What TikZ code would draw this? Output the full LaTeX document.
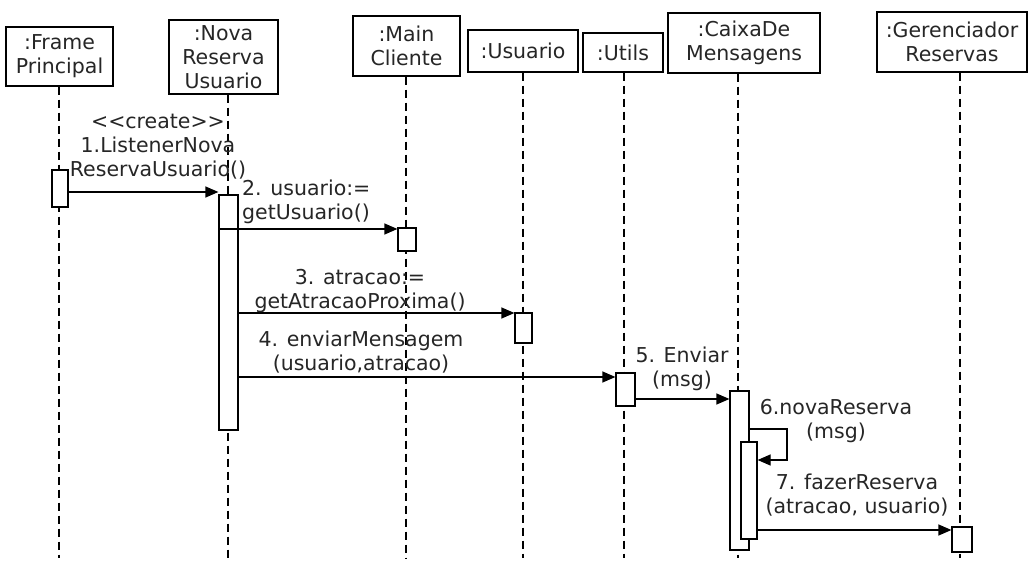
\documentclass[tikz,border=0pt]{standalone}
\usepackage{fontspec}
\setmainfont{DejaVu Sans}
\usetikzlibrary{arrows.meta}
\begin{document}
\begin{tikzpicture}[x=1pt,y=-1pt,
 every node/.style={font=\fontsize{20.5}{24}\selectfont, inner sep=0pt, text=black!85},
 head/.style={draw, line width=1.3pt, fill=white, align=center},
 actbox/.style={draw, line width=1.2pt, fill=white},
 life/.style={line width=1.2pt, dash pattern=on 8pt off 5pt},
 msg/.style={line width=1.2pt, -{Triangle[length=13pt,width=11pt]}},
 lbl/.style={align=center},
]
\useasboundingbox[fill=white] (0,0) rectangle (1029,564);

% heads
\node[head, minimum width=107pt, minimum height=59pt] (fp) at (59.5,56.5) {:Frame\\Principal};
\node[head, minimum width=109pt, minimum height=74pt] (nova) at (223.5,57) {:Nova\\Reserva\\Usuario};
\node[head, minimum width=107pt, minimum height=60pt] (mc) at (406.5,46) {:Main\\Cliente};
\node[head, minimum width=110pt, minimum height=42pt] (usu) at (523,51) {:Usuario};
\node[head, minimum width=80pt, minimum height=39pt] (ut) at (623,52.5) {:Utils};
\node[head, minimum width=152pt, minimum height=60pt] (cx) at (744,43) {:CaixaDe\\Mensagens};
\node[head, minimum width=150pt, minimum height=60pt] (gr) at (952,42) {:Gerenciador\\Reservas};

% lifeline ends
\coordinate (l1) at (59,558);
\coordinate (l2) at (228,558);
\coordinate (l3) at (406,558);
\coordinate (l4) at (523,558);
\coordinate (l5) at (624,558);
\coordinate (l6) at (738,558);
\coordinate (l7) at (960,558);
\draw[life] (l1 |- fp.south) -- (l1);
\draw[life] (l2 |- nova.south) -- (l2);
\draw[life] (l3 |- mc.south) -- (l3);
\draw[life] (l4 |- usu.south) -- (l4);
\draw[life] (l5 |- ut.south) -- (l5);
\draw[life] (l6 |- cx.south) -- (l6);
\draw[life] (l7 |- gr.south) -- (l7);

% activations
\node[actbox, minimum width=16pt, minimum height=37pt] (a1) at (60,188.5) {};
\node[actbox, minimum width=19pt, minimum height=235pt] (a2) at (228.5,312.5) {};
\node[actbox, minimum width=18pt, minimum height=23pt] (a3) at (407,239.5) {};
\node[actbox, minimum width=17pt, minimum height=30pt] (a4) at (523.5,328) {};
\node[actbox, minimum width=19pt, minimum height=33pt] (a5) at (625.5,389.5) {};
\node[actbox, minimum width=19pt, minimum height=159pt] (a6) at (739.5,470.5) {};
\node[actbox, minimum width=16pt, minimum height=97pt] (a7) at (749,490.5) {};
\node[actbox, minimum width=20pt, minimum height=25pt] (a8) at (962,539.5) {};

% messages
\draw[msg] (a1.east |- 0,192) -- (a2.west |- 0,192);
\draw[msg] (a2.west |- 0,229) -- (a3.west |- 0,229);
\draw[msg] (a2.east |- 0,313) -- (a4.west |- 0,313);
\draw[msg] (a2.east |- 0,377) -- (a5.west |- 0,377);
\draw[msg] (a5.east |- 0,399) -- (a6.west |- 0,399);
\coordinate (s1) at (787,429);
\coordinate (s2) at (787,460);
\draw[msg] (a6.east |- s1) -- (s1) -- (s2) -- (a7.east |- s2);
\draw[msg] (a7.east |- 0,530) -- (a8.west |- 0,530);

% labels
\node[lbl] (t1) at (158,147) {<{}<create>{}>\\1.ListenerNova\\ReservaUsuario()};
\node[align=left, anchor=west] (t2) at (242,202) {2. usuario:=\\getUsuario()};
\node[lbl] (t3) at (360,291) {3. atracao:=\\getAtracaoProxima()};
\node[lbl] (t4) at (361,352) {4. enviarMensagem\\(usuario,atracao)};
\node[lbl] (t5) at (682,369) {5. Enviar\\(msg)};
\node[lbl] (t6) at (836,421) {6.novaReserva\\(msg)};
\node[lbl] (t7) at (857,495) {7. fazerReserva\\(atracao, usuario)};
\end{tikzpicture}
\end{document}
